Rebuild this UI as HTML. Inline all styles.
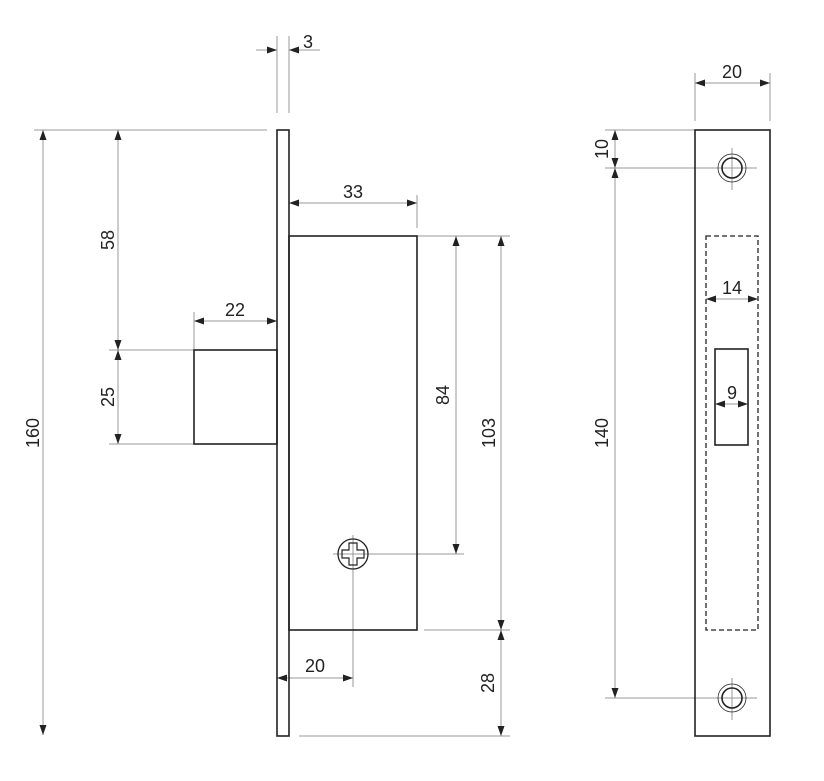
<!DOCTYPE html>
<html><head><style>body{margin:0;background:#fff}svg{display:block}text{font-family:"Liberation Sans",Arial,sans-serif;font-size:18px;fill:#222}</style></head>
<body>
<svg width="824" height="781" viewBox="0 0 824 781" xmlns="http://www.w3.org/2000/svg">
<defs>
<marker id="a" viewBox="0 0 10 10" refX="10" refY="5" markerWidth="10" markerHeight="10" markerUnits="userSpaceOnUse" orient="auto-start-reverse"><path d="M0,1.5L10,5L0,8.5z" fill="#222"/></marker>
</defs>
<g stroke="#999" stroke-width="1" fill="none">
<line x1="34" y1="130" x2="267" y2="130"/>
<line x1="109" y1="350" x2="194" y2="350"/>
<line x1="109" y1="444" x2="194" y2="444"/>
<line x1="277" y1="36" x2="277" y2="113"/>
<line x1="289" y1="36" x2="289" y2="113"/>
<line x1="417" y1="195" x2="417" y2="228"/>
<line x1="194" y1="312" x2="194" y2="350"/>
<line x1="417" y1="236" x2="510" y2="236"/>
<line x1="424" y1="630" x2="510" y2="630"/>
<line x1="299" y1="736" x2="510" y2="736"/>
<line x1="333" y1="554" x2="464" y2="554"/>
<line x1="353" y1="535" x2="353" y2="687"/>
<line x1="695" y1="73" x2="695" y2="121"/>
<line x1="770" y1="73" x2="770" y2="121"/>
<line x1="605" y1="130" x2="695" y2="130"/>
<line x1="605" y1="168" x2="757" y2="168"/>
<line x1="605" y1="698" x2="757" y2="698"/>
<line x1="732" y1="148" x2="732" y2="190"/>
<line x1="732" y1="678" x2="732" y2="720"/>
</g>
<g stroke="#999" stroke-width="1" fill="none" marker-end="url(#a)">
<line x1="256" y1="50" x2="277" y2="50"/>
<line x1="320" y1="50" x2="289" y2="50"/>
</g>
<g stroke="#999" stroke-width="1" fill="none" marker-start="url(#a)" marker-end="url(#a)">
<line x1="43" y1="130" x2="43" y2="735"/>
<line x1="118" y1="130" x2="118" y2="350"/>
<line x1="118" y1="350" x2="118" y2="444"/>
<line x1="289" y1="203" x2="417" y2="203"/>
<line x1="194" y1="321" x2="277" y2="321"/>
<line x1="456" y1="236" x2="456" y2="554"/>
<line x1="501" y1="236" x2="501" y2="630"/>
<line x1="501" y1="630" x2="501" y2="736"/>
<line x1="277" y1="678" x2="353" y2="678"/>
<line x1="695" y1="83" x2="770" y2="83"/>
<line x1="615" y1="130" x2="615" y2="168"/>
<line x1="615" y1="168" x2="615" y2="698"/>
<line x1="706" y1="299" x2="758" y2="299"/>
<line x1="715" y1="404" x2="748" y2="404"/>
</g>
<g stroke="#222" stroke-width="1.6" fill="none">
<rect x="277" y="130" width="12" height="606"/>
<rect x="289" y="236" width="128" height="394"/>
<rect x="194" y="350" width="83" height="94"/>
<circle cx="353" cy="554" r="15" stroke-width="1.3"/>
<path d="M349,543h8v7h7v8h-7v7h-8v-7h-7v-8h7z" stroke-width="1.2"/>
<rect x="695" y="130" width="75" height="606"/>
<circle cx="732" cy="168" r="14" stroke-width="0.8"/>
<circle cx="732" cy="168" r="10"/>
<circle cx="732" cy="698" r="14" stroke-width="0.8"/>
<circle cx="732" cy="698" r="10"/>
<rect x="706" y="236" width="52" height="394" stroke-dasharray="5,3" stroke-width="1.3"/>
<rect x="715" y="349" width="33" height="96"/>
</g>
<g text-anchor="middle">
<text x="308" y="48">3</text>
<text x="353" y="198">33</text>
<text x="235" y="316">22</text>
<text x="315" y="672">20</text>
<text x="732" y="78">20</text>
<text x="732" y="294">14</text>
<text x="732" y="399">9</text>
<text transform="translate(39,433) rotate(-90)">160</text>
<text transform="translate(114,240) rotate(-90)">58</text>
<text transform="translate(114,397) rotate(-90)">25</text>
<text transform="translate(449,395) rotate(-90)">84</text>
<text transform="translate(495,433) rotate(-90)">103</text>
<text transform="translate(494,683) rotate(-90)">28</text>
<text transform="translate(608,149) rotate(-90)">10</text>
<text transform="translate(608,433) rotate(-90)">140</text>
</g>
</svg>
</body></html>
